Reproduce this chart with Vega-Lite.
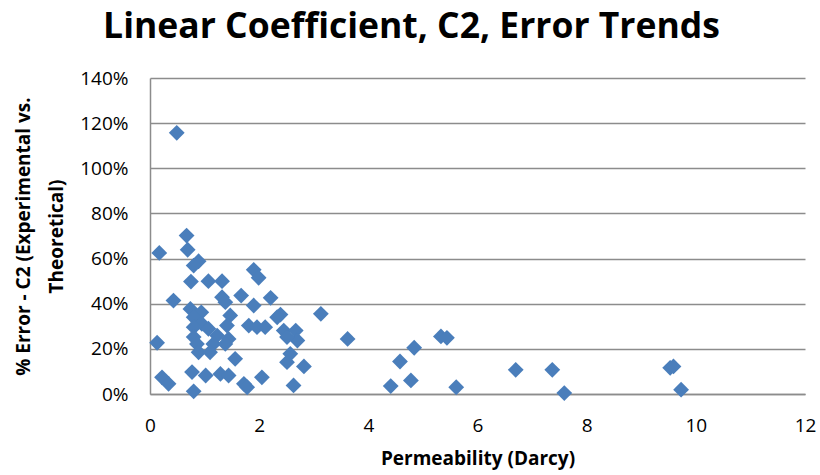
{
  "$schema": "https://vega.github.io/schema/vega-lite/v6.json",
  "width": 655,
  "height": 316,
  "autosize": "none",
  "padding": {"left": 150, "top": 78, "right": 15, "bottom": 81},
  "background": "white",
  "title": {
    "text": "Linear Coefficient, C2, Error Trends",
    "font": "Open Sans",
    "fontSize": 35.5,
    "fontWeight": "bold",
    "color": "#000000",
    "anchor": "middle",
    "dx": -66,
    "offset": 24
  },
  "data": {
    "values": [
      {"perm": 0.49, "err": 115.7},
      {"perm": 0.67, "err": 70.2},
      {"perm": 0.17, "err": 62.5},
      {"perm": 0.69, "err": 63.9},
      {"perm": 0.89, "err": 58.8},
      {"perm": 0.80, "err": 56.9},
      {"perm": 0.75, "err": 49.8},
      {"perm": 1.07, "err": 50.0},
      {"perm": 1.32, "err": 50.0},
      {"perm": 1.90, "err": 55.0},
      {"perm": 1.99, "err": 51.5},
      {"perm": 0.43, "err": 41.4},
      {"perm": 0.74, "err": 37.7},
      {"perm": 1.32, "err": 42.9},
      {"perm": 1.38, "err": 40.7},
      {"perm": 1.67, "err": 43.6},
      {"perm": 1.90, "err": 39.2},
      {"perm": 2.21, "err": 42.6},
      {"perm": 2.39, "err": 35.2},
      {"perm": 3.13, "err": 35.5},
      {"perm": 0.94, "err": 36.2},
      {"perm": 1.47, "err": 34.8},
      {"perm": 0.80, "err": 34.0},
      {"perm": 0.95, "err": 31.1},
      {"perm": 0.80, "err": 29.6},
      {"perm": 1.07, "err": 28.9},
      {"perm": 1.41, "err": 30.3},
      {"perm": 1.81, "err": 30.3},
      {"perm": 1.96, "err": 29.6},
      {"perm": 2.11, "err": 29.6},
      {"perm": 2.33, "err": 34.0},
      {"perm": 2.45, "err": 28.1},
      {"perm": 2.67, "err": 28.1},
      {"perm": 2.70, "err": 23.7},
      {"perm": 2.51, "err": 25.2},
      {"perm": 0.13, "err": 22.7},
      {"perm": 0.80, "err": 25.2},
      {"perm": 1.23, "err": 25.9},
      {"perm": 1.44, "err": 24.4},
      {"perm": 0.86, "err": 22.2},
      {"perm": 1.16, "err": 22.2},
      {"perm": 1.38, "err": 22.2},
      {"perm": 0.89, "err": 18.5},
      {"perm": 1.10, "err": 18.5},
      {"perm": 2.57, "err": 17.8},
      {"perm": 2.51, "err": 14.1},
      {"perm": 1.56, "err": 15.6},
      {"perm": 2.82, "err": 12.2},
      {"perm": 0.77, "err": 9.7},
      {"perm": 1.02, "err": 8.2},
      {"perm": 1.29, "err": 8.9},
      {"perm": 1.44, "err": 8.2},
      {"perm": 2.05, "err": 7.4},
      {"perm": 0.22, "err": 7.4},
      {"perm": 0.34, "err": 4.5},
      {"perm": 1.72, "err": 4.5},
      {"perm": 1.78, "err": 3.0},
      {"perm": 2.63, "err": 3.8},
      {"perm": 0.80, "err": 1.2},
      {"perm": 3.62, "err": 24.4},
      {"perm": 4.84, "err": 20.5},
      {"perm": 4.58, "err": 14.4},
      {"perm": 4.41, "err": 3.5},
      {"perm": 4.78, "err": 6.0},
      {"perm": 5.33, "err": 25.5},
      {"perm": 5.44, "err": 24.9},
      {"perm": 5.61, "err": 3.0},
      {"perm": 6.70, "err": 10.7},
      {"perm": 7.37, "err": 10.7},
      {"perm": 7.59, "err": 0.4},
      {"perm": 9.53, "err": 11.6},
      {"perm": 9.59, "err": 12.2},
      {"perm": 9.73, "err": 1.9}
    ]
  },
  "mark": {
    "type": "point",
    "shape": "diamond",
    "filled": true,
    "size": 250,
    "color": "#4A7EBB",
    "opacity": 1,
    "clip": false
  },
  "encoding": {
    "x": {
      "field": "perm",
      "type": "quantitative",
      "scale": {"domain": [0, 12], "nice": false, "zero": true},
      "axis": {
        "title": "Permeability (Darcy)",
        "values": [0, 2, 4, 6, 8, 10, 12],
        "grid": false,
        "ticks": false,
        "domainColor": "#8C8C8C",
        "domainWidth": 1.5,
        "labelFont": "Open Sans",
        "labelFontSize": 19,
        "labelColor": "#000000",
        "labelPadding": 22,
        "labelFlush": false,
        "titleFont": "Open Sans",
        "titleFontSize": 19,
        "titleFontWeight": "bold",
        "titleColor": "#000000",
        "titlePadding": 14
      }
    },
    "y": {
      "field": "err",
      "type": "quantitative",
      "scale": {"domain": [0, 140], "nice": false},
      "axis": {
        "title": ["% Error - C2 (Experimental vs.", "Theoretical)"],
        "values": [0, 20, 40, 60, 80, 100, 120, 140],
        "labelExpr": "datum.value + '%'",
        "grid": true,
        "gridColor": "#8C8C8C",
        "gridWidth": 1.5,
        "ticks": false,
        "domainColor": "#8C8C8C",
        "domainWidth": 1.5,
        "labelFont": "Open Sans",
        "labelFontSize": 19,
        "labelColor": "#000000",
        "labelPadding": 22,
        "labelFlush": false,
        "titleFont": "Open Sans",
        "titleFontSize": 19,
        "titleFontWeight": "bold",
        "titleColor": "#000000",
        "titleLineHeight": 33,
        "titleAngle": -90,
        "titleAlign": "center",
        "titleBaseline": "bottom",
        "titleX": -117,
        "titleY": 158
      }
    }
  },
  "config": {
    "view": {"stroke": null}
  }
}
